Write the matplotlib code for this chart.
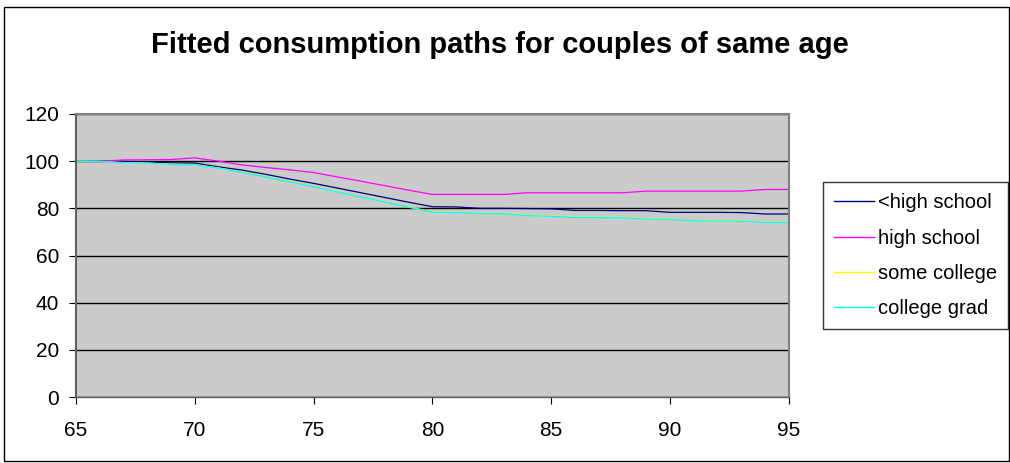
import numpy as np
import matplotlib.pyplot as plt
from matplotlib.patches import Rectangle

plt.rcParams['font.family'] = ['Liberation Sans', 'DejaVu Sans']

# data
age = list(range(65, 96))

less_hs = [100, 100, 99.9, 99.6, 99.3, 99.2, 97.6, 96.2, 94.4, 92.4,
           90.6, 88.6, 86.6, 84.6, 82.6, 80.7, 80.6, 80.0, 80.0, 79.9,
           79.8, 79.1, 79.1, 79.0, 79.0, 78.3, 78.3, 78.3, 78.2, 77.6, 77.6]

high_school = [100, 100, 100.5, 100.6, 100.7, 101.4, 100.0, 98.4, 97.3, 96.3,
               95.2, 93.3, 91.5, 89.6, 87.7, 85.9, 85.9, 85.9, 85.9, 86.6,
               86.6, 86.6, 86.6, 86.6, 87.3, 87.3, 87.3, 87.3, 87.3, 88.0, 88.0]

some_college = [100, 99.9, 99.4, 99.2, 98.7, 98.5, 97.1, 95.3, 93.4, 91.3,
                89.3, 87.1, 84.9, 82.8, 80.6, 78.5, 78.3, 77.9, 77.8, 77.0,
                76.7, 76.2, 76.2, 76.1, 75.5, 75.4, 74.8, 74.7, 74.7, 74.1, 74.1]

college_grad = [100, 99.9, 99.3, 99.2, 98.6, 98.4, 97.0, 95.2, 93.3, 91.2,
                89.2, 87.0, 84.8, 82.7, 80.5, 78.4, 78.2, 77.8, 77.7, 76.9,
                76.6, 76.1, 76.1, 76.0, 75.4, 75.3, 74.7, 74.6, 74.6, 74.0, 74.0]

series = [("<high school", less_hs, "#000080"),
          ("high school", high_school, "#FF00FF"),
          ("some college", some_college, "#FFFF00"),
          ("college grad", college_grad, "#00FFFF")]

fig = plt.figure(figsize=(10.10, 4.63), dpi=100)
ax = fig.add_axes([0.0752, 0.1425, 0.7058, 0.6113])
ax.set_facecolor("#CBCBCB")

for name, vals, col in series:
    ax.plot(age, vals, color=col, lw=0.9, label=name)

ax.set_xlim(65, 95)
ax.set_ylim(0, 120)
ax.set_xticks(range(65, 96, 5))
ax.set_yticks(range(0, 121, 20))
ax.yaxis.grid(True, color="black", lw=1.0)
ax.set_axisbelow(True)
ax.tick_params(direction="out", length=5, width=0.8, labelsize=15, pad=7)
ax.tick_params(axis="x", pad=12)
for side in ["top", "right"]:
    ax.spines[side].set_color("#808080")
    ax.spines[side].set_linewidth(1.5)
ax.spines["left"].set_color("#606060")
ax.spines["left"].set_linewidth(1.5)
ax.spines["bottom"].set_color("#606060")
ax.spines["bottom"].set_linewidth(1.0)

fig.text(0.495, 0.902, "Fitted consumption paths for couples of same age",
         ha="center", va="center", fontsize=21, fontweight="bold")

leg = fig.legend(loc="upper left", bbox_to_anchor=(0.8145, 0.606),
                 fontsize=14.5, frameon=True, fancybox=False,
                 handlelength=2.0, handletextpad=0.2, labelspacing=0.8,
                 borderpad=0.55, borderaxespad=0)
leg.get_frame().set_edgecolor("black")
leg.get_frame().set_linewidth(1.0)
for line in leg.get_lines():
    line.set_linewidth(1.0)

# outer chart border
fig.patches.append(Rectangle((0.004, 0.004), 0.995, 0.98, transform=fig.transFigure,
                             fill=False, edgecolor="black", lw=1.0))

fig.savefig("out.png", dpi=100)
